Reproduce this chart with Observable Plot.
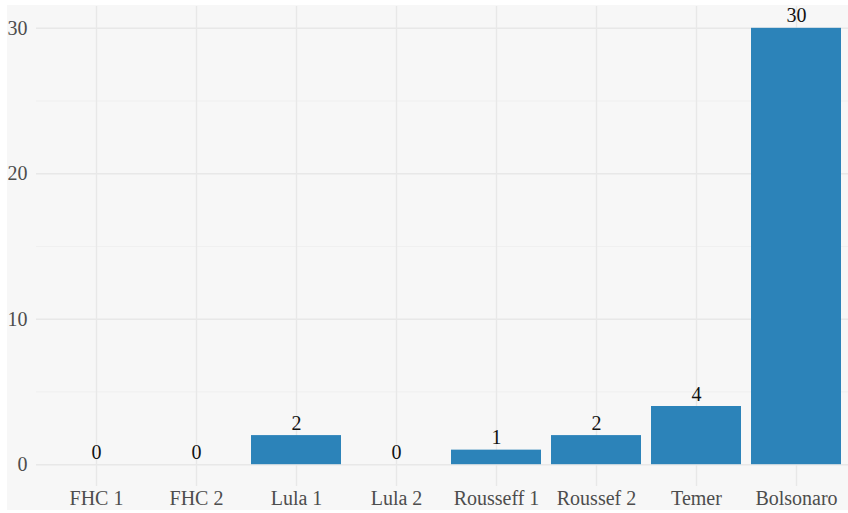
<!DOCTYPE html>
<html>
<head>
<meta charset="utf-8">
<script src="https://cdn.jsdelivr.net/npm/d3@7"></script>
<script src="https://cdn.jsdelivr.net/npm/@observablehq/plot@0.6"></script>
<style>
  html, body { margin: 0; padding: 0; background: #ffffff; }
  #wrap { position: relative; width: 848px; height: 513px; overflow: hidden; }
  #panel { position: absolute; left: 7px; top: 5px; right: 0; bottom: 3px; background: #f7f7f7; }
  #chart { position: absolute; left: 0; top: 0; }
</style>
</head>
<body>
<div id="wrap">
  <div id="panel"></div>
  <div id="chart"></div>
</div>
<script>
// Terms of office and their counts
const terms = ["FHC 1", "FHC 2", "Lula 1", "Lula 2", "Rousseff 1", "Roussef 2", "Temer", "Bolsonaro"];
const counts = [0, 0, 2, 0, 1, 2, 4, 30];
const majorTicks = [0, 10, 20, 30];
const minorTicks = [5, 15, 25];

const data = terms.map((t, i) => ({term: t, n: counts[i]}));

const chart = Plot.plot({
  width: 848,
  height: 513,
  marginLeft: 36,
  marginRight: 0,
  marginTop: 6,
  marginBottom: 27,
  style: {
    fontFamily: "'Liberation Serif', 'Times New Roman', serif",
    fontSize: "20px",
    background: "transparent",
    color: "#4d4d4d"
  },
  x: {domain: terms, range: [46, 846], paddingInner: 0.1, paddingOuter: 0.05, round: false, label: null},
  y: {domain: [-1.5, 31.5], label: null},
  marks: [
    Plot.ruleY(minorTicks, {stroke: "#ededed", strokeWidth: 0.8}),
    Plot.ruleY(majorTicks, {stroke: "#e8e8e8", strokeWidth: 1.4}),
    Plot.ruleX(terms, {x: d => d, stroke: "#e8e8e8", strokeWidth: 1.4}),
    Plot.barY(data, {x: "term", y1: 0, y2: "n", fill: "#2c83b9"}),
    Plot.text(data, {x: "term", y: "n", text: d => String(d.n), dy: -6, lineAnchor: "bottom", fill: "#111111", fontSize: 20}),
    Plot.axisY(majorTicks, {tickSize: 0, tickPadding: 9, fontSize: 20, label: null}),
    Plot.axisX({tickSize: 0, tickPadding: 4, fontSize: 20, label: null})
  ]
});
document.getElementById("chart").appendChild(chart);
</script>
</body>
</html>
